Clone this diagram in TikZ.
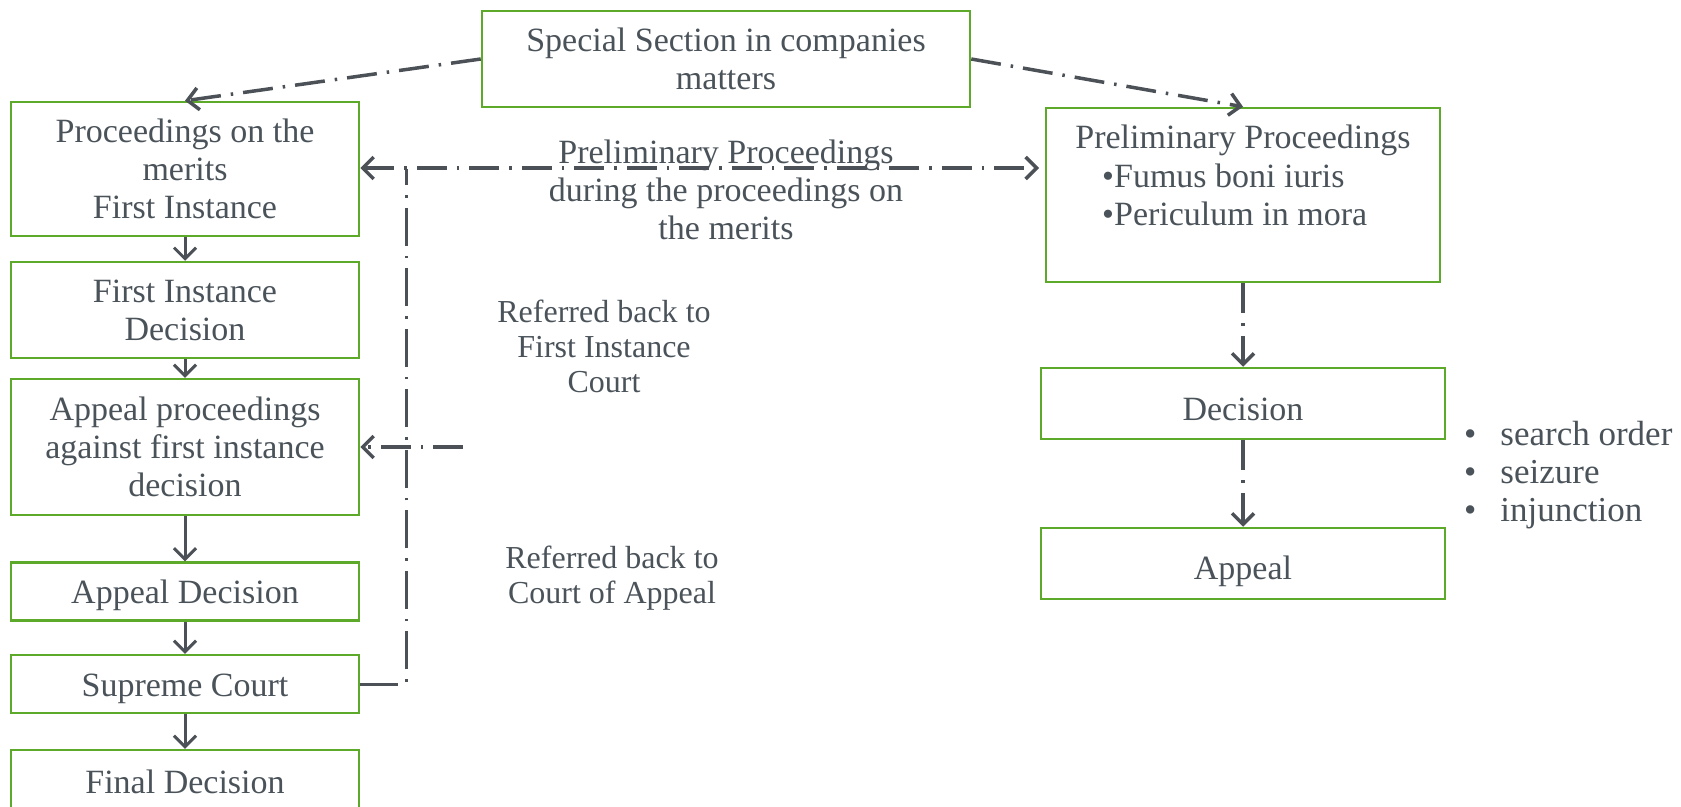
\documentclass[tikz,border=0pt]{standalone}
\usepackage{fontspec}
\setmainfont{Liberation Serif}
\usetikzlibrary{arrows.meta}
\definecolor{grn}{HTML}{5DAA2A}
\definecolor{txt}{HTML}{4B535A}
\definecolor{lnc}{HTML}{4B5157}
\newcommand\myfs{\fontsize{34bp}{38bp}\selectfont}
\newcommand\myfss{\fontsize{32bp}{35bp}\selectfont}
\begin{document}
\begin{tikzpicture}[x=1bp,y=-1bp,
  box/.style={draw=grn, line width=2.5bp, rectangle, inner sep=0pt, align=center, text=txt, font=\myfs},
  sbox/.style={draw=grn, line width=2.5bp, rectangle, inner sep=0pt, text=txt, font=\myfs, text height=#1, text depth=0pt},
  lbl/.style={inner sep=0pt, align=center, text=txt, font=\myfs},
  slbl/.style={inner sep=0pt, align=center, text=txt, font=\myfss},
  tip/.style={-{Straight Barb[length=11bp,width=22bp]}},
  solidarrow/.style={draw=lnc, line width=3bp, tip},
  dd/.style={draw=lnc, line width=3.5bp, dash pattern=on 30bp off 10bp on 2.5bp off 10bp},
  ddv/.style={draw=lnc, line width=3bp, dash pattern=on 38bp off 10bp on 2.5bp off 10bp}
]
\clip (0,0) rectangle (1681,807);
\fill[white] (0,0) rectangle (1681,807);

% left column
\node[box, minimum width=348bp, minimum height=134bp] (b1) at (185,169) {Proceedings on the\\merits\\First Instance};
\node[box, minimum width=348bp, minimum height=96bp] (b2) at (185,310) {First Instance\\Decision};
\node[box, minimum width=348bp, minimum height=136bp] (b3) at (185,447) {Appeal proceedings\\against first instance\\decision};
\node[sbox=23bp, minimum width=348bp, minimum height=58bp] (b4) at (185,591.5) {Appeal Decision};
\node[sbox=25bp, minimum width=348bp, minimum height=58bp] (b5) at (185,684) {Supreme Court};
\node[sbox=22bp, minimum width=348bp, minimum height=64bp] (b6) at (185,782) {Final Decision};

% top
\node[box, minimum width=488bp, minimum height=96bp] (sp) at (726,59) {Special Section in companies\\matters};

% right column
\node[box, minimum width=394bp, minimum height=174bp] (pre) at (1243,195) {};
\node[lbl] (pret) at (1243,140) {Preliminary Proceedings};
\node[lbl, anchor=west, align=left] (preb) at (1102,195) {\textbullet Fumus boni iuris\\\textbullet Periculum in mora};
\node[sbox=33bp, minimum width=404bp, minimum height=71bp] (dec) at (1243,403.5) {Decision};
\node[sbox=31bp, minimum width=404bp, minimum height=71bp] (app) at (1243,563.5) {Appeal};

% bullet list
\node[lbl, anchor=west, align=left, font=\fontsize{35bp}{38bp}\selectfont] (blist) at (1464,475) {\textbullet\hspace{24bp}search order\\\textbullet\hspace{24bp}seizure\\\textbullet\hspace{24bp}injunction};

% labels
\node[lbl] (l1) at (726,190) {Preliminary Proceedings\\during the proceedings on\\the merits};
\node[slbl] (l2) at (604,346) {Referred back to\\First Instance\\Court};
\node[slbl] (l3) at (612,578) {Referred back to\\Court of Appeal};

% solid arrows
\draw[solidarrow] (b1.south) -- (b2.north);
\draw[solidarrow] (b2.south) -- (b3.north);
\draw[solidarrow] (b3.south) -- (b4.north);
\draw[solidarrow] (b4.south) -- (b5.north);
\draw[solidarrow] (b5.south) -- (b6.north);

% dash-dot connectors
\coordinate (prw) at (1039,168);
\coordinate (vt) at (406,169);
\coordinate (vb) at (406,684);
\coordinate (ra) at (463,447);
\draw[dd, tip] (sp.west) -- (b1.north);
\draw[dd, tip] (sp.east) -- (pre.north);
\draw[dd, {Straight Barb[length=11bp,width=22bp]}-{Straight Barb[length=11bp,width=22bp]}] (b1.east |- prw) -- (prw);
\draw[ddv] (b5.east) -- (vb) -- (vt);
\draw[dd, tip] (ra) -- (b3.east);
\draw[dd, tip] (pre.south) -- (dec.north);
\draw[dd, tip] (dec.south) -- (app.north);
\end{tikzpicture}
\end{document}
